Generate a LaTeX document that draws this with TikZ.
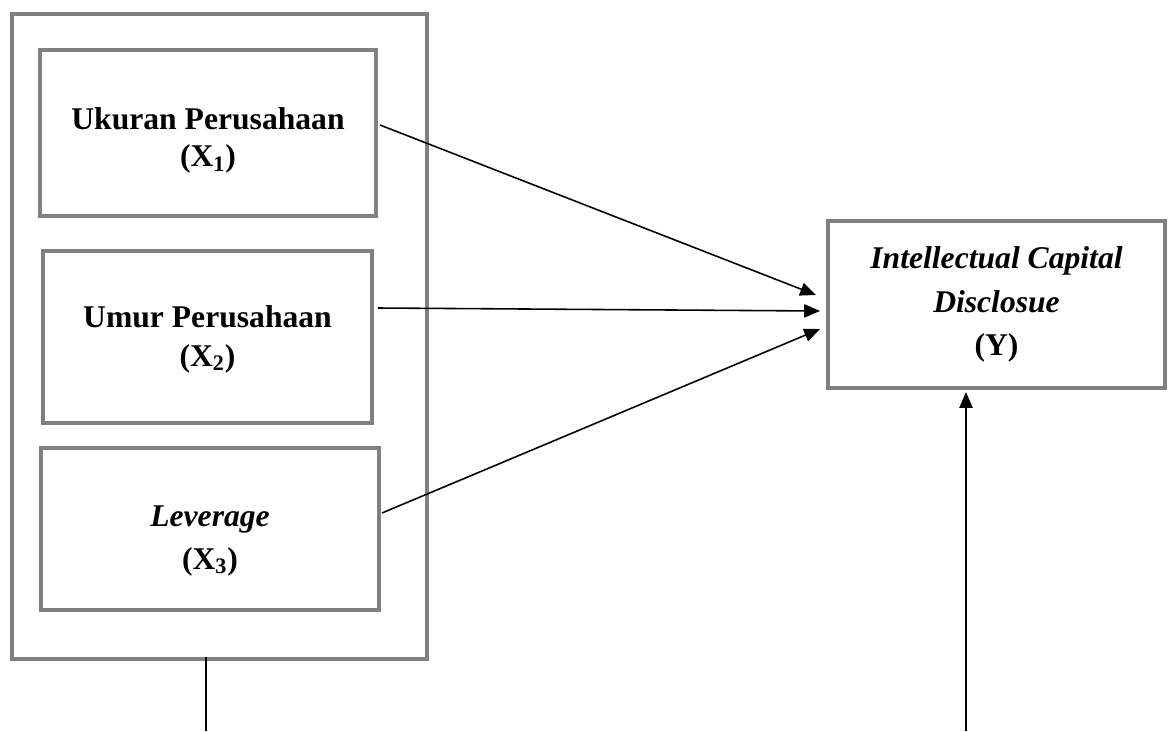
\documentclass[tikz,border=0pt]{standalone}
\usepackage{fontspec}
\setmainfont{Liberation Serif}
\usetikzlibrary{arrows.meta,calc}
\begin{document}
\begin{tikzpicture}[x=0.02cm,y=-0.02cm,
        kotak/.style={draw=black!50,line width=2.3pt,align=center,inner sep=0pt,
            font=\bfseries\fontsize{18}{21}\selectfont},
        panah/.style={line width=0.9pt,-{Triangle[length=9pt,width=7.5pt]}}]
    \useasboundingbox (0,0) rectangle (1170,731);
    \node[kotak,minimum width=8.3cm,minimum height=12.9cm] (luar) at (219.5,336.5) {};
    \node[kotak,minimum width=6.72cm,minimum height=3.32cm] (ukuran) at (208,133) {\rule{0pt}{21pt}Ukuran Perusahaan\\(X\textsubscript{1})};
    \node[kotak,minimum width=6.58cm,minimum height=3.44cm] (umur) at (207.5,337) {\rule{0pt}{15pt}Umur Perusahaan\\[1pt](X\textsubscript{2})};
    \node[kotak,minimum width=6.76cm,minimum height=3.24cm] (lev) at (210,529) {\rule{0pt}{25pt}\textit{Leverage}\\[3.4pt](X\textsubscript{3})};
    \node[kotak,minimum width=6.74cm,minimum height=3.34cm] (icd) at (996.5,304.5) {\textit{Intellectual Capital}\\[3.7pt]\textit{Disclosue}\\[3.7pt](Y)};
    \coordinate (kiri) at (206,731);
    \coordinate (kanan) at (966,731);
    \draw[panah] ($(ukuran.east)+(2,-8)$) -- ($(icd.west)+(-10,-9.5)$);
    \draw[panah] ($(umur.east)+(4,-29)$) -- ($(icd.west)+(-6,6.5)$);
    \draw[panah] ($(lev.east)+(1,-16)$) -- ($(icd.west)+(-6,24.5)$);
    \draw[line width=0.9pt] ($(kiri |- luar.south)+(0,-4)$) -- (kiri);
    \draw[panah] (kanan) -- ($(kanan |- icd.south)+(0,2)$);
\end{tikzpicture}
\end{document}
